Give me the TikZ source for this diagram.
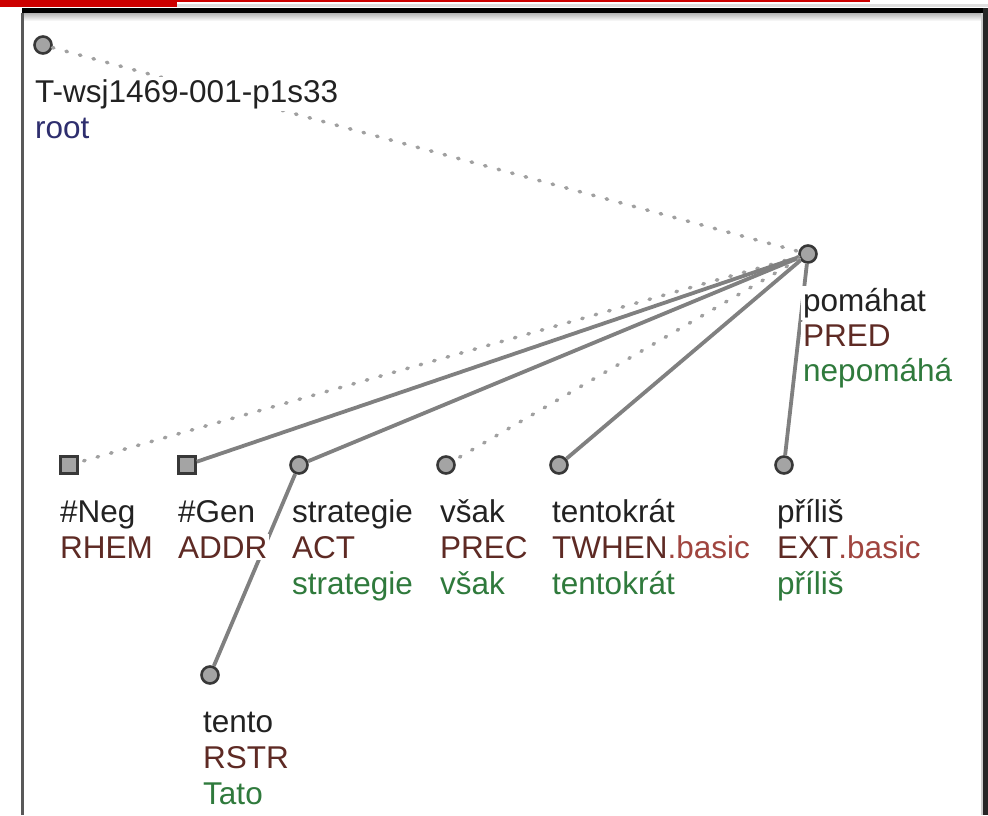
\documentclass[tikz,border=0pt]{standalone}
\usepackage{fontspec}
\setmainfont{Liberation Sans}
\definecolor{redbar}{HTML}{CC0000}
\definecolor{ndfill}{HTML}{A4A4A4}
\definecolor{nddraw}{HTML}{383838}
\definecolor{edgec}{HTML}{808080}
\definecolor{dotc}{HTML}{A0A0A0}
\definecolor{lemc}{HTML}{222222}
\definecolor{funcc}{HTML}{5E2A24}
\definecolor{basicc}{HTML}{A0453F}
\definecolor{formc}{HTML}{2F7A3C}
\definecolor{rootc}{HTML}{2E2E6E}
\begin{document}
\begin{tikzpicture}[x=1pt,y=-1pt,
  tnode/.style={circle, draw=nddraw, fill=ndfill, line width=2.6pt, minimum size=17pt, inner sep=0pt},
  qnode/.style={rectangle, draw=nddraw, fill=ndfill, line width=2.6pt, minimum size=17pt, inner sep=0pt},
  solidedge/.style={draw=edgec, line width=3.8pt},
  dotedge/.style={draw=dotc, line width=3.5pt, dash pattern=on 1.5pt off 12.5pt, line cap=round},
  lab/.style={anchor=base west, fill=white, inner sep=2pt, font=\fontsize{31.5}{36}\selectfont, text=lemc},
  fn/.style={lab, text=funcc},
  fm/.style={lab, text=formc}
]
\useasboundingbox (0,0) rectangle (988,815);
% header and frame
\fill[redbar] (0,0) rectangle (177,7);
\fill[redbar] (177,0) rectangle (870,2);
\fill[gray!25] (177,4) rectangle (988,7);
\shade[top color=gray!60, bottom color=white] (24,13) rectangle (983,21);
\fill[black] (22,8) rectangle (988,13);
\fill[gray!70!black] (21,13) rectangle (24,815);
\fill[gray!40] (981,13) rectangle (983,815);
\fill[black!85] (983,8) rectangle (988,815);
% tree nodes
\node[tnode] (root) at (43,45) {};
\node[tnode] (pom) at (808,254) {};
\node[qnode] (neg) at (69,465) {};
\node[qnode] (gen) at (187,465) {};
\node[tnode] (strat) at (299,465) {};
\node[tnode] (vsak) at (446,465) {};
\node[tnode] (tent) at (559,465) {};
\node[tnode] (pril) at (784,465) {};
\node[tnode] (tento) at (210,675) {};
% edges
\draw[dotedge] (root) -- (pom);
\draw[dotedge] (pom) -- (neg);
\draw[solidedge] (pom) -- (gen);
\draw[solidedge] (pom) -- (strat);
\draw[dotedge] (pom) -- (vsak);
\draw[solidedge] (pom) -- (tent);
\draw[solidedge] (pom) -- (pril);
\draw[solidedge] (strat) -- (tento);
% labels
\node[lab] (rootA) at (33,102) {T-wsj1469-001-p1s33};
\node[lab, text=rootc] (rootB) at (33,138) {root};
\node[lab] (pomA) at (801,311) {pomáhat};
\node[fn] (pomB) at (801,346) {PRED};
\node[fm] (pomC) at (801,381) {nepomáhá};
\node[lab] (negA) at (58,522) {\#Neg};
\node[fn] (negB) at (58,558) {RHEM};
\node[lab] (genA) at (176,522) {\#Gen};
\node[fn] (genB) at (176,558) {ADDR};
\node[lab] (stratA) at (290,522) {strategie};
\node[fn] (stratB) at (290,558) {ACT};
\node[fm] (stratC) at (290,594) {strategie};
\node[lab] (vsakA) at (438,522) {však};
\node[fn] (vsakB) at (438,558) {PREC};
\node[fm] (vsakC) at (438,594) {však};
\node[lab] (tentA) at (550,522) {tentokrát};
\node[fn] (tentB) at (550,558) {TWHEN\textcolor{basicc}{.basic}};
\node[fm] (tentC) at (550,594) {tentokrát};
\node[lab] (prilA) at (775,522) {příliš};
\node[fn] (prilB) at (775,558) {EXT\textcolor{basicc}{.basic}};
\node[fm] (prilC) at (775,594) {příliš};
\node[lab] (tentoA) at (201,732) {tento};
\node[fn] (tentoB) at (201,768) {RSTR};
\node[fm] (tentoC) at (201,804) {Tato};
\end{tikzpicture}
\end{document}
